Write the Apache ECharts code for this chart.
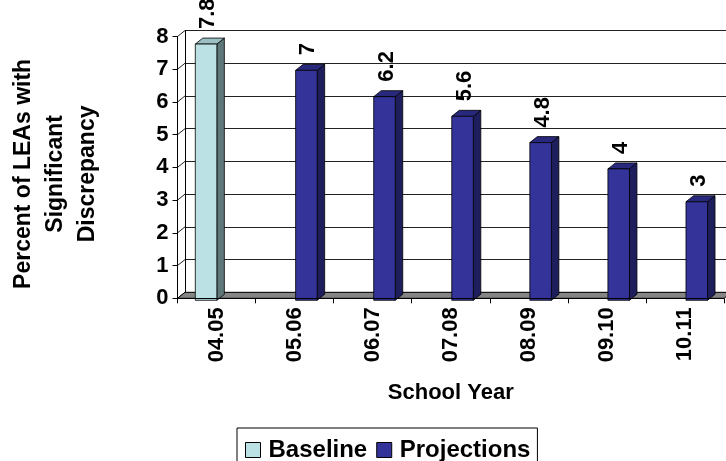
<!DOCTYPE html>
<html>
<head>
<meta charset="utf-8">
<script src="https://cdn.jsdelivr.net/npm/echarts@6/dist/echarts.min.js"></script>
<style>
html,body{margin:0;padding:0;background:#fff;}
#chart{width:726px;height:461px;}
</style>
</head>
<body>
<div id="chart"></div>
<script>
// ---- data ----
const categories = ['04.05', '05.06', '06.07', '07.08', '08.09', '09.10', '10.11'];
const baseline = [7.8, null, null, null, null, null, null];
const projections = [null, 7, 6.2, 5.6, 4.8, 4, 3];
const yTicks = [0, 1, 2, 3, 4, 5, 6, 7, 8];
const seriesNames = ['Baseline', 'Projections'];

// ---- styling ----
const FONT = "'Liberation Sans', Arial, sans-serif";
const DX = 7.5, DY = -6;
const COLORS = {
  Baseline: { front: '#BCE1E4', side: '#5E7779', top: '#9BBFC2' },
  Projections: { front: '#333399', side: '#1E1E5C', top: '#28287D' }
};
const OFFSETS = { Baseline: -0.272, Projections: 0.013 };
const BAR_W = 0.276;

const chart = echarts.init(document.getElementById('chart'), null, { renderer: 'canvas' });

function barRender(name) {
  return function (params, api) {
    const idx = api.value(0);
    const v = api.value(1);
    if (v == null || isNaN(v)) return null;
    const top = api.coord([idx, v]);
    const base = api.coord([idx, 0]);
    const band = api.size([1, 0])[0];
    const w = band * BAR_W;
    const left = top[0] + band * OFFSETS[name];
    const right = left + w;
    const yt = top[1], yb = base[1];
    const c = COLORS[name];
    const stroke = { stroke: '#000', lineWidth: 0.8 };
    return {
      type: 'group',
      children: [
        { type: 'polygon', shape: { points: [[right, yt], [right + DX, yt + DY], [right + DX, yb + DY], [right, yb]] },
          style: Object.assign({ fill: c.side }, stroke) },
        { type: 'polygon', shape: { points: [[left, yt], [right, yt], [right + DX, yt + DY], [left + DX, yt + DY]] },
          style: Object.assign({ fill: c.top }, stroke) },
        { type: 'rect', shape: { x: left, y: yt, width: w, height: yb - yt },
          style: Object.assign({ fill: c.front }, stroke) },
        { type: 'text', x: left + w / 2 + 2, y: yt - 15, rotation: Math.PI / 2,
          style: { text: String(v), fill: '#000', font: 'bold 22px ' + FONT, align: 'left', verticalAlign: 'middle' } }
      ]
    };
  };
}

const option = {
  backgroundColor: '#fff',
  animation: false,
  textStyle: { fontFamily: FONT },
  grid: [
    { left: 177.5, top: 36.5, width: 546.5, height: 261.8, outerBoundsMode: 'none', containLabel: false },   // front axes
    { left: 185, top: 30.5, width: 546.5, height: 261.8, outerBoundsMode: 'none', containLabel: false },     // back wall
    { left: 177.5, top: 37.5, width: 546.5, height: 262.8, outerBoundsMode: 'none', containLabel: false }    // bars
  ],
  xAxis: [
    { gridIndex: 0, type: 'category', data: categories, boundaryGap: true, z: 5,
      axisLine: { show: true, lineStyle: { color: '#000', width: 1 } },
      axisTick: { show: true, length: 5, lineStyle: { color: '#000' } },
      axisLabel: { rotate: 90, margin: 9, fontSize: 22, fontWeight: 'bold', color: '#000', fontFamily: FONT },
      name: 'School Year', nameLocation: 'middle', nameGap: 84, nameMoveOverlap: false,
      nameTextStyle: { fontSize: 22, fontWeight: 'bold', color: '#000', fontFamily: FONT } },
    { gridIndex: 1, type: 'category', data: categories, show: false },
    { gridIndex: 2, type: 'category', data: categories, show: false }
  ],
  yAxis: [
    { gridIndex: 0, type: 'value', min: 0, max: 8, interval: 1, z: 5,
      axisLine: { show: true, lineStyle: { color: '#000', width: 1 } },
      axisTick: { show: true, length: 5, lineStyle: { color: '#000' } },
      splitLine: { show: false },
      axisLabel: { margin: 9, fontSize: 22, fontWeight: 'bold', color: '#000', fontFamily: FONT },
      name: 'Percent of LEAs with\nSignificant\nDiscrepancy', nameLocation: 'middle', nameRotate: 90, nameGap: 74,
      nameMoveOverlap: false,
      nameTextStyle: { fontSize: 23, fontWeight: 'bold', color: '#000', lineHeight: 32, align: 'center', fontFamily: FONT,
        padding: [0, 13, 0, 0] } },
    { gridIndex: 1, type: 'value', min: 0, max: 8, interval: 1,
      axisLine: { show: true, lineStyle: { color: '#000', width: 1 } },
      axisTick: { show: false }, axisLabel: { show: false },
      splitLine: { show: true, lineStyle: { color: '#222', width: 1 } } },
    { gridIndex: 2, type: 'value', min: 0, max: 8, interval: 1, show: false }
  ],
  legend: {
    data: seriesNames.map(n => ({ name: n, icon: 'rect', itemStyle: { color: COLORS[n].front, borderColor: '#000', borderWidth: 1 } })),
    left: 237, top: 428, orient: 'horizontal',
    itemWidth: 15, itemHeight: 15, itemGap: 9,
    padding: [10, 7, 12, 8],
    borderColor: '#000', borderWidth: 1,
    textStyle: { fontSize: 24, fontWeight: 'bold', color: '#000', fontFamily: FONT, padding: [0, 0, 0, 3] }
  },
  series: [
    { type: 'custom', name: 'wallLines', xAxisIndex: 0, yAxisIndex: 0, z: 1, silent: true,
      data: yTicks.map(v => [0, v]),
      renderItem: function (params, api) {
        const cs = params.coordSys;
        const y = api.coord([0, api.value(1)])[1];
        return { type: 'line', shape: { x1: cs.x, y1: y, x2: cs.x + DX, y2: y + DY }, style: { stroke: '#222', lineWidth: 1 } };
      } },
    { type: 'custom', name: 'floor', xAxisIndex: 0, yAxisIndex: 0, z: 1, silent: true,
      data: [[0, 0]],
      renderItem: function (params, api) {
        const cs = params.coordSys;
        const yb = api.coord([0, 0])[1];
        const x0 = cs.x, x1 = cs.x + cs.width;
        return { type: 'polygon', shape: { points: [[x0, yb], [x1, yb], [x1 + DX, yb + DY], [x0 + DX, yb + DY]] },
          style: { fill: '#858585', stroke: '#000', lineWidth: 1 } };
      } },
    { type: 'custom', name: 'Baseline', xAxisIndex: 2, yAxisIndex: 2, z: 3,
      itemStyle: { color: COLORS.Baseline.front },
      encode: { x: 0, y: 1 },
      data: baseline.map((v, i) => [i, v]).filter(d => d[1] != null),
      renderItem: barRender('Baseline') },
    { type: 'custom', name: 'Projections', xAxisIndex: 2, yAxisIndex: 2, z: 3,
      itemStyle: { color: COLORS.Projections.front },
      encode: { x: 0, y: 1 },
      data: projections.map((v, i) => [i, v]).filter(d => d[1] != null),
      renderItem: barRender('Projections') }
  ]
};
chart.setOption(option);
</script>
</body>
</html>
